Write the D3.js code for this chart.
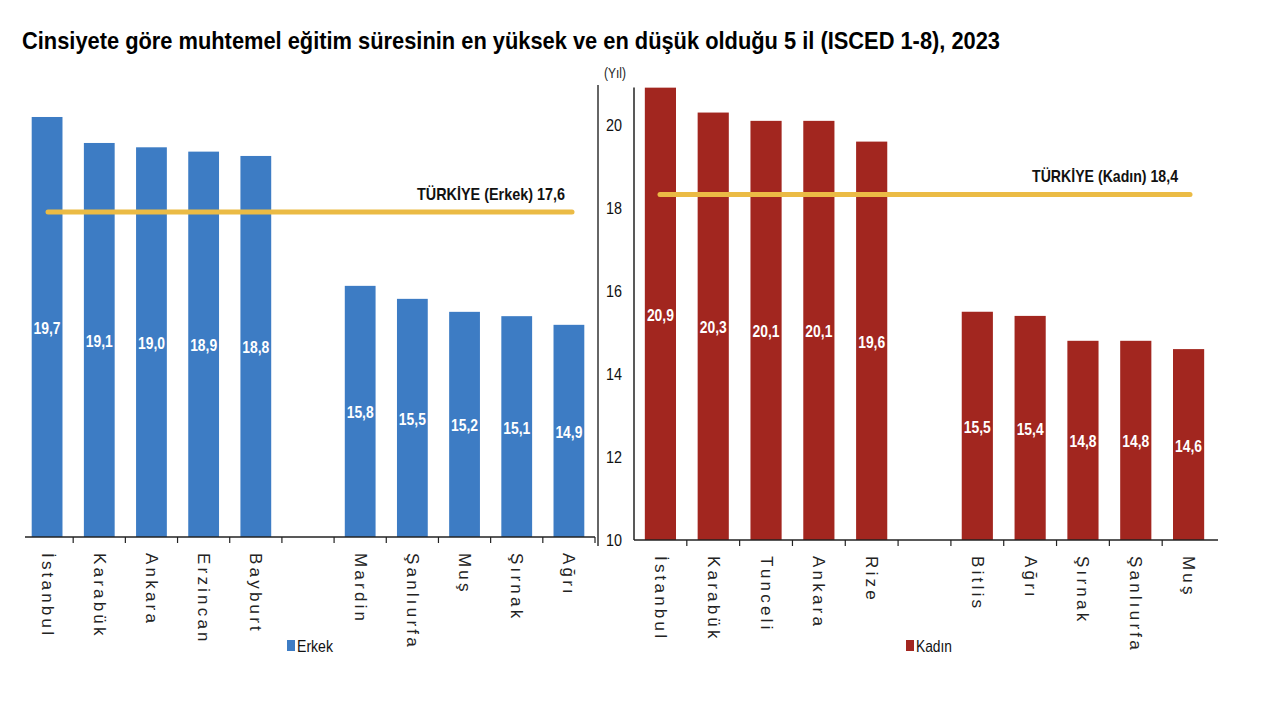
<!DOCTYPE html>
<html>
<head>
<meta charset="utf-8">
<script src="https://cdn.jsdelivr.net/npm/d3@7"></script>
<style>
  html, body { margin: 0; padding: 0; background: #fff; }
  svg { display: block; }
  text { font-family: "Liberation Sans", Arial, sans-serif; }
</style>
</head>
<body>
<svg id="chart" width="1280" height="720"></svg>
<script>
// ---------- DATA ----------
const titleText = "Cinsiyete göre muhtemel eğitim süresinin en yüksek ve en düşük olduğu 5 il (ISCED 1-8), 2023";
const maleTopCities = ["İstanbul", "Karabük", "Ankara", "Erzincan", "Bayburt"];
const maleTopValues = [19.7, 19.1, 19.0, 18.9, 18.8];
const maleBottomCities = ["Mardin", "Şanlıurfa", "Muş", "Şırnak", "Ağrı"];
const maleBottomValues = [15.8, 15.5, 15.2, 15.1, 14.9];
const femaleTopCities = ["İstanbul", "Karabük", "Tunceli", "Ankara", "Rize"];
const femaleTopValues = [20.9, 20.3, 20.1, 20.1, 19.6];
const femaleBottomCities = ["Bitlis", "Ağrı", "Şırnak", "Şanlıurfa", "Muş"];
const femaleBottomValues = [15.5, 15.4, 14.8, 14.8, 14.6];
const turkeyMale = 17.6;
const turkeyFemale = 18.4;
const yTicks = [10, 12, 14, 16, 18, 20];
const yDomain = [10, 21];

// ---------- STYLE ----------
const blue = "#3D7CC4";
const red = "#A2261F";
const gold = "#EBBB45";
const fmt = v => d3.format(".1f")(v).replace(".", ",");

const svg = d3.select("#chart");

// title
svg.append("text")
  .attr("x", 22).attr("y", 49)
  .attr("font-weight", "bold")
  .attr("font-size", 24)
  .attr("textLength", 978)
  .attr("lengthAdjust", "spacingAndGlyphs")
  .attr("fill", "#000")
  .text(titleText);

function panel(opts) {
  const topData = opts.topCities.map((c, i) => ({ key: "t" + i, city: c, value: opts.topValues[i] }));
  const botData = opts.bottomCities.map((c, i) => ({ key: "b" + i, city: c, value: opts.bottomValues[i] }));
  const data = topData.concat(botData);
  const domain = topData.map(d => d.key).concat(["gap"], botData.map(d => d.key));

  const x = d3.scaleBand().domain(domain).range(opts.xRange).paddingInner(0.41).paddingOuter(0.205);
  const y = d3.scaleLinear().domain(yDomain).range(opts.yRange);
  const base = y(yDomain[0]);
  const step = x.step();
  const g = svg.append("g");

  // bars
  g.selectAll("rect.bar").data(data).enter().append("rect")
    .attr("x", d => x(d.key))
    .attr("y", d => y(d.value))
    .attr("width", x.bandwidth())
    .attr("height", d => base - y(d.value))
    .attr("fill", opts.color);

  // value labels (condensed look)
  g.selectAll("text.val").data(data).enter().append("text")
    .attr("x", d => x(d.key) + x.bandwidth() / 2)
    .attr("y", d => (y(d.value) + base) / 2 + 7)
    .attr("text-anchor", "middle")
    .attr("font-weight", "bold")
    .attr("font-size", 17)
    .attr("textLength", 27)
    .attr("lengthAdjust", "spacingAndGlyphs")
    .attr("fill", "#fff")
    .text(d => fmt(d.value));

  // turkey line
  const ty = y(opts.turkey);
  g.append("line")
    .attr("x1", opts.lineX[0]).attr("x2", opts.lineX[1])
    .attr("y1", ty + opts.lineShift).attr("y2", ty + opts.lineShift)
    .attr("stroke", gold).attr("stroke-width", 5).attr("stroke-linecap", "round");
  g.append("text")
    .attr("x", opts.labelX).attr("y", ty + opts.lineShift - 12)
    .attr("text-anchor", "end")
    .attr("font-size", 17)
    .attr("font-weight", "bold")
    .attr("textLength", opts.labelLen)
    .attr("lengthAdjust", "spacingAndGlyphs")
    .attr("fill", "#111")
    .text(opts.turkeyLabel);

  // x axis line + ticks
  const axisG = g.append("g").attr("transform", `translate(0,${base})`);
  axisG.append("line")
    .attr("x1", opts.axisStart).attr("x2", opts.xRange[1] + opts.axisEndExtra)
    .attr("y1", 0).attr("y2", 0)
    .attr("stroke", "#222").attr("stroke-width", 1.5);
  const tickPos = domain.slice(1).map(k => x(k) - x.paddingInner() * step / 2);
  if (opts.endTick) tickPos.push(opts.xRange[1]);
  axisG.selectAll("line.tick").data(tickPos).enter().append("line")
    .attr("x1", d => d).attr("x2", d => d)
    .attr("y1", 0).attr("y2", 6)
    .attr("stroke", "#222").attr("stroke-width", 1.2);

  // category labels (rotated)
  g.selectAll("text.cat").data(data).enter().append("text")
    .attr("transform", d => `translate(${x(d.key) + x.bandwidth() / 2},${base + 16}) rotate(90)`)
    .attr("dominant-baseline", "central")
    .attr("font-size", 17)
    .attr("letter-spacing", 3.2)
    .attr("fill", "#222")
    .text(d => d.city);

  // legend
  const lg = g.append("g").attr("transform", `translate(${opts.legendX},${646})`);
  lg.append("rect").attr("x", 0).attr("y", -6).attr("width", 8).attr("height", 11).attr("fill", opts.color);
  lg.append("text").attr("x", 10).attr("y", 0)
    .attr("dominant-baseline", "central")
    .attr("font-size", 17)
    .attr("textLength", 36)
    .attr("lengthAdjust", "spacingAndGlyphs")
    .attr("fill", "#111").text(opts.legendLabel);

  return y;
}

// left panel (Erkek)
panel({
  topCities: maleTopCities, topValues: maleTopValues,
  bottomCities: maleBottomCities, bottomValues: maleBottomValues,
  color: blue, turkey: turkeyMale, turkeyLabel: "TÜRKİYE (Erkek) 17,6", labelLen: 148,
  xRange: [21, 595], yRange: [537, 537 - 11 * 43.3],
  axisStart: 25, axisEndExtra: 0, endTick: true,
  lineX: [48, 572], lineShift: 4, labelX: 565,
  legendX: 287, legendLabel: "Erkek"
});

// right panel (Kadın)
const yR = panel({
  topCities: femaleTopCities, topValues: femaleTopValues,
  bottomCities: femaleBottomCities, bottomValues: femaleBottomValues,
  color: red, turkey: turkeyFemale, turkeyLabel: "TÜRKİYE (Kadın) 18,4", labelLen: 146,
  xRange: [634, 1215], yRange: [540, 540 - 11 * 41.5],
  axisStart: 634, axisEndExtra: 3, endTick: false,
  lineX: [660, 1190], lineShift: 3, labelX: 1178,
  legendX: 906, legendLabel: "Kadın"
});

// right y axis
const yAxisG = svg.append("g").attr("transform", "translate(634,0)");
yAxisG.append("line").attr("x1", 0).attr("x2", 0).attr("y1", yR(21) + 4).attr("y2", yR(10))
  .attr("stroke", "#222").attr("stroke-width", 1.5);
yAxisG.selectAll("text.yt").data(yTicks).enter().append("text")
  .attr("x", -12).attr("y", d => yR(d))
  .attr("dominant-baseline", "central")
  .attr("text-anchor", "end")
  .attr("font-size", 17)
  .attr("textLength", 16)
  .attr("lengthAdjust", "spacingAndGlyphs")
  .attr("fill", "#111")
  .text(d => d);
svg.append("text")
  .attr("x", 615).attr("y", 78).attr("text-anchor", "middle")
  .attr("font-size", 15)
  .attr("textLength", 22)
  .attr("lengthAdjust", "spacingAndGlyphs")
  .attr("fill", "#222").text("(Yıl)");

// divider line between panels
svg.append("line").attr("x1", 598).attr("x2", 598).attr("y1", 85).attr("y2", 546)
  .attr("stroke", "#333").attr("stroke-width", 1.5);
</script>
</body>
</html>
